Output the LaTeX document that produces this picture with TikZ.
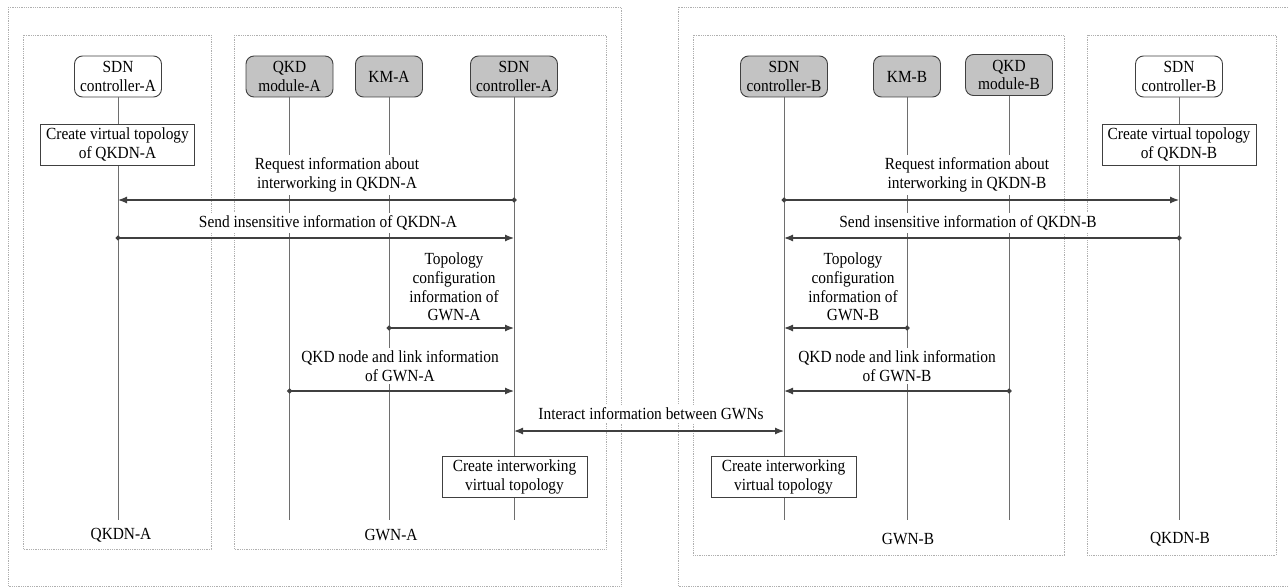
\documentclass[tikz,border=0pt]{standalone}
\usepackage{fontspec}
\setmainfont{Liberation Serif}[FakeStretch=0.905]
\usetikzlibrary{arrows.meta}
\definecolor{partfill}{HTML}{C3C3C3}
\definecolor{edgecol}{HTML}{404040}
\definecolor{lifecol}{HTML}{6E6E6E}
\definecolor{dotcol}{HTML}{AFAFAF}
\begin{document}
\begin{tikzpicture}[x=1pt,y=-1pt,
  font=\fontsize{17}{18.6}\selectfont,
  partg/.style={draw=edgecol, fill=partfill, rounded corners=8pt, line width=0.9pt, align=center, minimum height=41pt, inner sep=2pt},
  partw/.style={partg, fill=white},
  actbox/.style={draw=edgecol, fill=white, line width=0.9pt, align=center, minimum height=41pt, inner sep=2pt},
  lbl/.style={fill=white, align=center, inner sep=3pt},
  life/.style={draw=lifecol, line width=1pt},
  frame/.style={draw=dotcol, densely dotted, line width=0.8pt},
  msg/.style={draw=edgecol, line width=1.2pt, {Circle[length=5pt]}-{Latex[length=9pt,width=7pt]}, shorten <=-2.5pt},
  twoway/.style={draw=edgecol, line width=1.2pt, {Latex[length=9pt,width=7pt]}-{Latex[length=9pt,width=7pt]}}
]
\useasboundingbox (0,0) rectangle (1288,588);
% frames
\draw[frame] (8,7) rectangle (621,586);
\draw[frame] (678,7) rectangle (1295,586);
\draw[frame] (23,35) rectangle (211,549);
\draw[frame] (234,35) rectangle (606,549);
\draw[frame] (693,35) rectangle (1064,555);
\draw[frame] (1087,35) rectangle (1276,555);
% participants
\node[partw, minimum width=87pt] (sdnAw) at (118,76.5) {SDN\\controller-A};
\node[partg, minimum width=87pt] (qkdA) at (289.5,76.5) {QKD\\module-A};
\node[partg, minimum width=67pt] (kmA) at (389,76.5) {KM-A};
\node[partg, minimum width=87pt] (sdnAg) at (514,76.5) {SDN\\controller-A};
\node[partg, minimum width=87pt] (sdnBg) at (784,76.5) {SDN\\controller-B};
\node[partg, minimum width=67pt] (kmB) at (907,76.5) {KM-B};
\node[partg, minimum width=87pt] (qkdB) at (1009,75) {QKD\\module-B};
\node[partw, minimum width=87pt] (sdnBw) at (1179,76.5) {SDN\\controller-B};
% row coordinates
\coordinate (yend) at (0,520);
\coordinate (y1) at (0,200);
\coordinate (y2) at (0,238);
\coordinate (y3) at (0,328);
\coordinate (y4) at (0,391);
\coordinate (y5) at (0,431);
% lifelines
\foreach \p in {sdnAw,qkdA,kmA,sdnAg,sdnBg,kmB,qkdB,sdnBw}
  \draw[life] (\p.south) -- (\p.south |- yend);
% activity boxes
\node[actbox, minimum width=154pt] (cvA) at (117.5,144.5) {Create virtual topology\\of QKDN-A};
\node[actbox, minimum width=154pt] (cvB) at (1179,144.5) {Create virtual topology\\of QKDN-B};
\node[actbox, minimum width=145pt] (ciA) at (514.5,477) {Create interworking\\virtual topology};
\node[actbox, minimum width=145pt] (ciB) at (783.5,477) {Create interworking\\virtual topology};
% message labels
\node[lbl] (lA1) at (337,175) {Request information about\\interworking in QKDN-A};
\node[lbl] (lA2) at (328,223) {Send insensitive information of QKDN-A};
\node[lbl] (lA3) at (454,287) {Topology\\configuration\\information of\\GWN-A};
\node[lbl] (lA4) at (400,366) {QKD node and link information\\of GWN-A};
\node[lbl] (lM) at (651,414) {Interact information between GWNs};
\node[lbl] (lB1) at (967,175) {Request information about\\interworking in QKDN-B};
\node[lbl] (lB2) at (968,223) {Send insensitive information of QKDN-B};
\node[lbl] (lB3) at (853,287) {Topology\\configuration\\information of\\GWN-B};
\node[lbl] (lB4) at (897,366) {QKD node and link information\\of GWN-B};
% network labels
\node (nA) at (121,535) {QKDN-A};
\node (gA) at (391,535) {GWN-A};
\node (gB) at (908,539) {GWN-B};
\node (nB) at (1180,539) {QKDN-B};
% messages
\draw[msg] (sdnAg |- y1) -- (sdnAw |- y1);
\draw[msg] (sdnAw |- y2) -- (sdnAg |- y2);
\draw[msg] (kmA |- y3) -- (sdnAg |- y3);
\draw[msg] (qkdA |- y4) -- (sdnAg |- y4);
\draw[msg] (sdnBg |- y1) -- (sdnBw |- y1);
\draw[msg] (sdnBw |- y2) -- (sdnBg |- y2);
\draw[msg] (kmB |- y3) -- (sdnBg |- y3);
\draw[msg] (qkdB |- y4) -- (sdnBg |- y4);
\draw[twoway] (sdnAg |- y5) -- (sdnBg |- y5);
\end{tikzpicture}
\end{document}
